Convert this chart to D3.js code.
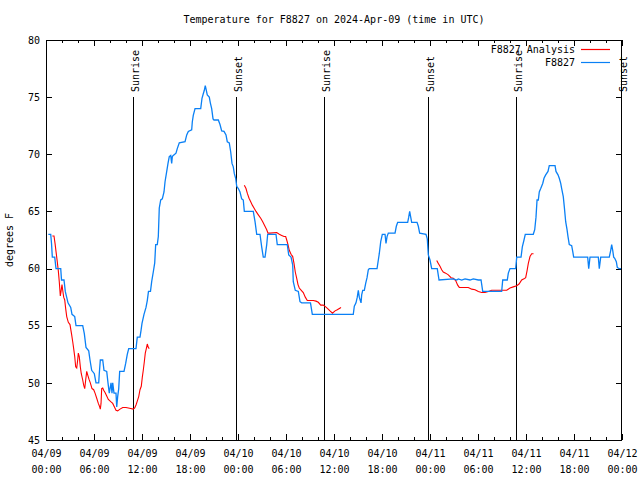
<!DOCTYPE html>
<html><head><meta charset="utf-8">
<script src="https://cdn.jsdelivr.net/npm/d3@7"></script>
<style>body{margin:0;background:#fff}svg text{font-family:"DejaVu Sans Mono","Liberation Mono",monospace;font-size:10px;fill:#000}</style>
</head><body>
<svg id="chart" width="640" height="480"></svg>
<script>
const title = "Temperature for F8827 on 2024-Apr-09 (time in UTC)";
const yLabel = "degrees F";
const startTime = "2024-04-09T00:00:00Z";
const endTime = "2024-04-12T00:00:00Z";
const yTicks = [45, 50, 55, 60, 65, 70, 75, 80];
const seriesNames = ["F8827 Analysis", "F8827"];
const seriesColors = ["#ff0000", "#0a80f5"];

// Observed (hours since start, degF)
const obsHours = [0.29,0.59,0.69,0.79,1.09,1.25,1.84,1.94,2.25,2.41,2.75,3.09,3.25,3.59,3.75,4.59,4.79,5.0,5.34,5.5,5.71,6.04,6.25,6.59,6.66,6.79,7.09,7.25,7.59,7.75,7.91,8.13,8.25,8.34,8.5,8.75,8.84,8.96,9.09,9.21,9.75,9.96,10.16,10.34,11.25,11.41,11.75,11.88,12.0,12.25,12.5,12.66,12.81,13.06,13.21,13.41,13.59,13.71,13.91,14.04,14.16,14.34,14.54,14.75,14.88,15.09,15.25,15.41,15.59,15.71,15.79,15.91,16.25,16.41,16.66,17.38,17.59,17.79,18.21,18.29,18.41,18.63,19.34,19.5,19.66,19.79,19.91,20.04,20.16,20.41,20.54,20.71,20.88,21.0,21.54,21.75,21.96,22.25,22.5,22.66,22.91,23.09,23.25,23.41,23.54,23.71,23.84,24.04,24.25,24.46,24.66,24.79,25.91,26.13,26.34,26.75,26.96,27.16,27.38,27.59,27.71,28.75,28.91,30.16,30.34,30.63,30.84,30.91,31.16,31.54,31.75,31.96,33.06,33.29,38.41,38.54,38.75,38.91,39.04,39.16,39.38,39.46,39.59,39.79,39.96,40.13,40.29,40.41,41.38,41.54,41.66,41.84,42.04,42.38,42.5,42.63,42.79,43.63,43.79,43.96,45.21,45.34,45.46,45.59,45.71,46.38,46.54,46.71,47.5,47.66,47.79,48.0,48.21,48.91,49.13,50.91,51.34,51.54,51.96,52.38,53.0,53.41,54.04,54.38,54.59,56.96,57.09,57.66,57.79,58.0,58.71,58.84,59.38,59.54,59.75,59.91,60.91,61.09,61.25,61.38,61.54,61.66,61.84,62.09,62.25,62.46,62.75,62.91,63.63,63.75,64.0,64.16,64.34,64.46,64.66,64.79,64.96,65.13,65.25,65.41,65.71,65.84,65.96,67.71,67.84,68.0,69.04,69.16,69.34,70.41,70.59,70.71,70.84,70.96,71.09,71.29,71.41,71.63,71.88];
const obsTemps = [63.0,63.0,62.2,61.0,61.0,60.0,60.0,59.0,59.0,58.0,57.0,56.6,56.0,55.8,55.0,55.0,54.3,53.1,52.8,52.0,51.1,50.8,50.0,50.0,50.8,52.0,52.0,51.1,51.0,50.0,49.1,50.0,49.1,50.0,49.1,49.1,47.9,48.8,49.5,51.0,51.0,51.7,52.5,53.0,53.0,54.0,54.0,54.6,55.2,56.0,56.6,57.2,58.0,58.0,58.85,59.7,60.5,62.1,62.1,62.8,65.3,66.0,66.1,66.7,67.6,68.5,69.2,69.8,69.9,69.2,69.8,69.9,70.1,70.5,71.0,71.1,71.7,72.0,72.15,72.85,73.4,74.0,74.0,74.9,75.3,75.6,76.0,75.6,75.2,75.0,74.5,74.0,73.1,73.0,73.0,72.6,72.05,72.0,71.7,71.1,71.0,70.2,69.2,68.9,68.3,67.9,67.2,67.0,66.7,66.1,66.0,65.0,65.0,64.1,63.0,63.0,61.9,61.0,61.0,62.1,63.0,63.0,62.1,62.1,61.2,61.0,60.3,58.85,58.1,58.0,57.1,57.0,57.0,56.0,56.0,56.7,57.0,57.5,58.1,57.5,57.0,57.7,58.1,58.1,58.7,59.2,59.9,60.0,60.0,60.75,61.3,62.35,63.0,63.0,62.2,62.8,63.1,63.1,63.7,64.05,64.05,64.5,65.0,64.5,64.05,64.05,63.7,63.1,63.0,62.6,61.2,60.75,60.0,60.0,59.0,59.1,59.0,59.1,59.0,59.1,59.0,59.1,59.0,59.0,58.0,58.0,59.0,59.0,59.6,60.0,60.0,61.0,61.0,61.9,62.5,63.0,63.0,63.4,64.5,66.0,66.0,66.7,67.0,67.45,67.9,68.2,68.5,69.0,69.0,68.5,68.2,67.9,67.45,67.0,66.3,65.4,64.1,63.4,62.8,62.1,62.0,61.5,61.0,61.0,60.0,61.0,61.0,60.0,61.0,61.0,61.6,62.1,61.6,61.0,60.9,60.6,60.1,60.0,60.0];

// Analysis (null marks a gap)
const anaHours = [0.79,1.0,1.13,1.25,1.41,1.54,1.66,1.79,1.88,2.0,2.09,2.21,2.34,2.46,2.59,2.79,3.0,3.21,3.34,3.46,3.59,3.71,3.84,3.96,4.04,4.16,4.29,4.41,4.59,4.71,4.84,4.96,5.09,5.21,5.38,5.54,5.75,5.96,6.13,6.34,6.54,6.66,6.79,6.88,6.96,7.09,7.21,7.38,7.59,7.79,8.09,8.34,8.54,8.75,8.96,9.25,9.59,10.0,10.29,10.59,10.91,11.09,11.25,11.41,11.59,11.75,11.91,12.04,12.16,12.29,12.41,12.54,12.66,12.79,12.91,
  null,
  24.79,25.0,25.16,25.38,25.59,25.79,26.0,26.25,26.54,26.84,27.09,27.34,27.59,27.75,28.0,28.84,29.16,29.46,29.75,29.96,30.09,30.25,30.41,30.63,30.84,31.0,31.16,31.34,31.5,31.66,31.91,32.16,32.41,32.66,33.0,33.41,33.75,34.04,34.34,34.66,34.96,35.21,35.5,35.81,36.13,36.41,36.88,
  null,
  48.84,49.04,49.25,49.46,49.66,49.96,50.29,50.63,50.91,51.21,51.46,51.66,52.79,53.21,53.63,54.04,54.46,54.88,55.29,55.71,57.59,58.0,58.41,58.84,59.13,59.46,59.75,59.96,60.13,60.29,60.5,60.71,60.94];
const anaTemps = [62.85,62.85,62.2,61.5,60.6,59.8,58.85,57.6,58.0,58.6,58.1,57.5,57.25,56.5,55.8,55.3,55.1,54.2,53.6,53.0,52.3,51.4,51.3,52.0,52.6,52.3,51.4,50.8,50.25,49.8,49.5,50.25,51.0,50.7,50.3,50.0,49.5,49.4,49.1,48.65,48.2,48.0,47.7,48.2,49.5,49.55,49.35,49.15,48.85,48.55,48.35,48.2,47.9,47.6,47.55,47.7,47.85,47.85,47.8,47.75,47.7,47.8,48.06,48.4,48.8,49.4,49.7,50.5,51.1,51.85,52.6,53.0,53.4,53.1,53.0,
  null,
  67.3,67.0,66.6,66.15,65.85,65.55,65.3,65.0,64.7,64.4,64.1,63.75,63.4,63.1,63.1,63.15,63.0,62.9,62.8,62.8,62.5,62.1,61.6,61.25,61.05,60.45,59.7,59.15,58.6,58.3,58.1,57.9,57.5,57.2,57.2,57.2,57.15,57.05,56.8,56.8,56.65,56.5,56.3,56.1,56.3,56.4,56.6,
  null,
  60.7,60.45,60.2,59.9,59.7,59.6,59.45,59.2,59.15,58.95,58.55,58.35,58.35,58.2,58.15,58.0,57.9,57.9,58.0,58.1,58.1,58.3,58.4,58.5,58.65,59.0,59.1,59.2,59.8,60.45,61.05,61.3,61.3];

const sunNames = ["Sunrise", "Sunset", "Sunrise", "Sunset", "Sunrise", "Sunset"];
const sunHours = [10.88, 23.75, 34.79, 47.79, 58.79, 71.87];

const svg = d3.select("#chart");
const W = 640, H = 480;
const L = 46, R = 622, T = 40, B = 440;
const t0 = new Date(startTime);
const toDate = h => new Date(t0.getTime() + h * 3600e3);

const x = d3.scaleUtc().domain([new Date(startTime), new Date(endTime)]).range([L, R]);
const y = d3.scaleLinear().domain([yTicks[0], yTicks[yTicks.length - 1]]).range([B, T]);

svg.append("rect").attr("width", W).attr("height", H).attr("fill", "#fff");

// title
svg.append("text").attr("x", (L + R) / 2).attr("y", 23).attr("text-anchor", "middle").text(title);
// y label
svg.append("text").attr("transform", `translate(13,${(T + B) / 2}) rotate(-90)`)
  .attr("text-anchor", "middle").text(yLabel);

// axes
function styleAxis(g) {
  g.select(".domain").remove();
  g.selectAll("line").attr("stroke", "#000").attr("shape-rendering", "crispEdges");
}
svg.append("g").attr("transform", `translate(0,${B})`)
  .call(d3.axisBottom(x).ticks(d3.utcHour.every(2)).tickSize(-3).tickFormat(""))
  .call(styleAxis);
svg.append("g").attr("transform", `translate(0,${T})`)
  .call(d3.axisTop(x).ticks(d3.utcHour.every(2)).tickSize(-3).tickFormat(""))
  .call(styleAxis);
svg.append("g").attr("transform", `translate(0,${T})`)
  .call(d3.axisTop(x).ticks(d3.utcHour.every(6)).tickSize(-6).tickFormat(""))
  .call(styleAxis);
const fmtDate = d3.utcFormat("%m/%d"), fmtTime = d3.utcFormat("%H:%M");
const xb = svg.append("g").attr("transform", `translate(0,${B})`)
  .call(d3.axisBottom(x).ticks(d3.utcHour.every(6)).tickSize(-6).tickFormat(fmtDate))
  .call(styleAxis);
xb.selectAll(".tick text").each(function(d) {
  const t = d3.select(this);
  t.text(null).attr("y", 0).attr("dy", null).attr("font-size", null).attr("font-family", null);
  t.append("tspan").attr("x", 0).attr("y", 17).text(fmtDate(d));
  t.append("tspan").attr("x", 0).attr("y", 33).text(fmtTime(d));
});
const yl = svg.append("g").attr("transform", `translate(${L},0)`)
  .call(d3.axisLeft(y).tickValues(yTicks).tickSize(-6).tickPadding(6).tickFormat(d3.format("d")))
  .call(styleAxis);
yl.selectAll("text").attr("font-size", null).attr("font-family", null);
svg.append("g").attr("transform", `translate(${R},0)`)
  .call(d3.axisRight(y).tickValues(yTicks).tickSize(-6).tickFormat(""))
  .call(styleAxis);

// sunrise/sunset
const sun = svg.append("g");
sunHours.forEach((h, i) => {
  const sx = Math.round(x(toDate(h))) + 0.5;
  sun.append("line").attr("x1", sx).attr("x2", sx).attr("y1", 97).attr("y2", B)
    .attr("stroke", "#000").attr("stroke-width", 1);
  sun.append("text").attr("transform", `translate(${sx + 5.5},92) rotate(-90)`).text(sunNames[i]);
});

// data lines
const anaData = anaHours.map((h, i) => ({ h, v: anaTemps[i] }));
const obsData = obsHours.map((h, i) => ({ h, v: obsTemps[i] }));
const line = d3.line().defined(d => d.h != null && d.v != null)
  .x(d => x(toDate(d.h))).y(d => y(d.v));
svg.append("path").datum(anaData).attr("d", line).attr("fill", "none")
  .attr("stroke", seriesColors[0]).attr("stroke-width", 1.1);
svg.append("path").datum(obsData).attr("d", line).attr("fill", "none")
  .attr("stroke", seriesColors[1]).attr("stroke-width", 1.3);

// frame
svg.append("rect").attr("x", L + 0.5).attr("y", T + 0.5).attr("width", R - L - 1).attr("height", B - T)
  .attr("fill", "none").attr("stroke", "#000").attr("shape-rendering", "crispEdges");

// legend
const lg = svg.append("g");
seriesNames.forEach((n, i) => {
  const ly = 49.5 + i * 13;
  lg.append("text").attr("x", 575).attr("y", ly + 3.5).attr("text-anchor", "end").text(n);
  lg.append("line").attr("x1", 581).attr("x2", 610).attr("y1", ly).attr("y2", ly)
    .attr("stroke", seriesColors[i]).attr("stroke-width", 1.2);
});
</script>
</body></html>
